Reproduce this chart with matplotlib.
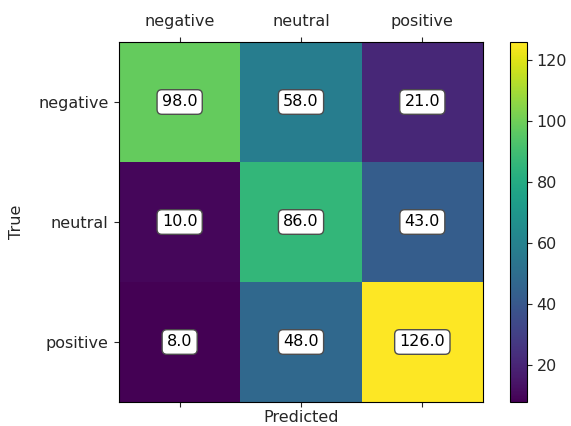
import numpy as np
import matplotlib.pyplot as plt

labels = ["negative", "neutral", "positive"]
cm = np.array([[98.0, 58.0, 21.0],
               [10.0, 86.0, 43.0],
               [8.0, 48.0, 126.0]])

plt.rcParams["font.size"] = 11.5
plt.rcParams["text.color"] = "#262626"
plt.rcParams["axes.labelcolor"] = "#262626"
plt.rcParams["xtick.color"] = "#262626"
plt.rcParams["ytick.color"] = "#262626"

fig = plt.figure(figsize=(5.71, 4.26), dpi=100)
ax = fig.add_axes([119 / 571, 1 - 402 / 426, 364 / 571, 360 / 426])
cax = fig.add_axes([510 / 571, 1 - 402 / 426, 17 / 571, 360 / 426])

im = ax.imshow(cm, cmap="viridis", aspect="auto")
cb = fig.colorbar(im, cax=cax)

ax.set_xticks(range(len(labels)))
ax.set_yticks(range(len(labels)))
ax.set_xticklabels(labels)
ax.set_yticklabels(labels)
ax.tick_params(axis="x", top=True, labeltop=True, bottom=True, labelbottom=False, pad=6)
ax.tick_params(axis="y", pad=4)
ax.set_xlabel("Predicted", labelpad=2)
ax.set_ylabel("True", labelpad=10)

for i in range(cm.shape[0]):
    for j in range(cm.shape[1]):
        ax.text(j, i, f"{cm[i, j]:.1f}", ha="center", va="center", color="black",
                bbox=dict(boxstyle="round", facecolor="white", edgecolor="0.3"))

fig.savefig("out.png", dpi=100)
